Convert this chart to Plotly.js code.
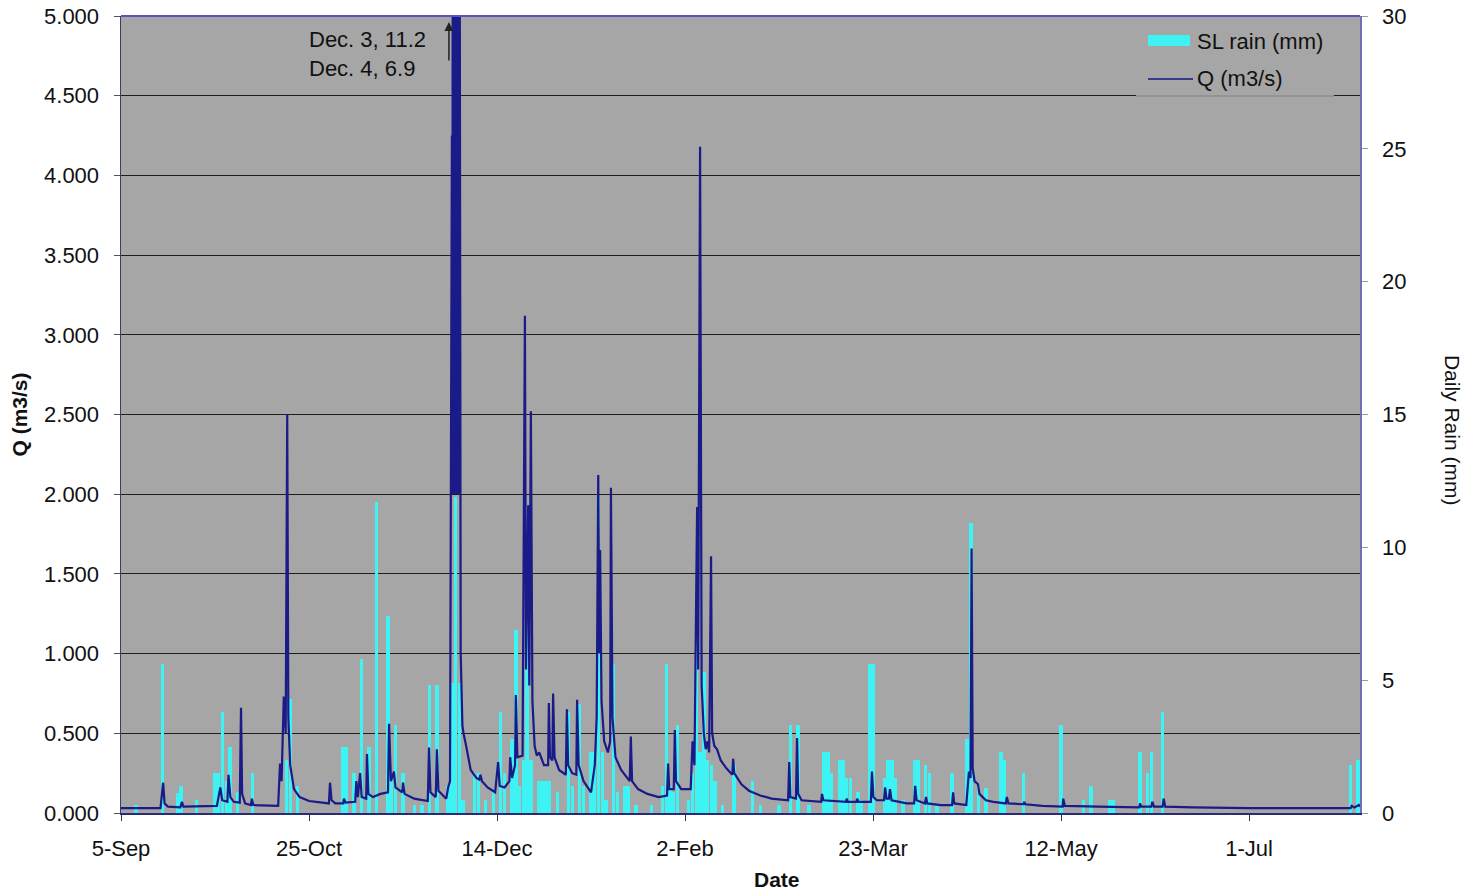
<!DOCTYPE html>
<html>
<head>
<meta charset="utf-8">
<script src="https://cdn.plot.ly/plotly-3.0.1.min.js"></script>
<style>html,body{margin:0;padding:0;background:#fff;}#chart{width:1469px;height:895px;}</style>
</head>
<body>
<div id="chart"></div>
<script>
// ---- Daily rain (SL rain, mm) ----
var rainDates = ['2007-09-09','2007-09-16','2007-09-20','2007-09-21','2007-09-25','2007-09-30','2007-10-01','2007-10-02','2007-10-03','2007-10-04','2007-10-06','2007-10-10','2007-10-19','2007-10-20','2007-10-22',
'2007-11-03','2007-11-04','2007-11-06','2007-11-08','2007-11-10','2007-11-12','2007-11-15','2007-11-16','2007-11-17','2007-11-19','2007-11-22','2007-11-24','2007-11-26','2007-11-28',
'2007-12-01','2007-12-02','2007-12-03','2007-12-04','2007-12-05','2007-12-08','2007-12-09','2007-12-11','2007-12-13','2007-12-15','2007-12-16','2007-12-18','2007-12-19','2007-12-20','2007-12-21','2007-12-22','2007-12-23','2007-12-25','2007-12-26','2007-12-27','2007-12-28','2007-12-30',
'2008-01-02','2008-01-03','2008-01-05','2008-01-06','2008-01-08','2008-01-09','2008-01-10','2008-01-11','2008-01-12','2008-01-14','2008-01-15','2008-01-17','2008-01-18','2008-01-20','2008-01-24','2008-01-27','2008-01-28','2008-01-29','2008-01-30','2008-01-31',
'2008-02-03','2008-02-04','2008-02-05','2008-02-06','2008-02-07','2008-02-08','2008-02-09','2008-02-10','2008-02-12','2008-02-15','2008-02-20','2008-02-22','2008-02-27',
'2008-03-01','2008-03-03','2008-03-06','2008-03-10','2008-03-11','2008-03-12','2008-03-14','2008-03-15','2008-03-16','2008-03-17','2008-03-19','2008-03-20','2008-03-22','2008-03-23','2008-03-26','2008-03-27','2008-03-28','2008-03-29','2008-03-31',
'2008-04-03','2008-04-04','2008-04-06','2008-04-07','2008-04-09','2008-04-13','2008-04-17','2008-04-18','2008-04-20','2008-04-22','2008-04-26','2008-04-27',
'2008-05-02','2008-05-12','2008-05-18','2008-05-20','2008-05-25','2008-05-26','2008-06-02','2008-06-04','2008-06-05','2008-06-08','2008-07-28','2008-07-30'];
var rainMm = [0.3,5.6,0.75,1.0,0.5,1.5,1.5,3.8,1.2,2.5,0.8,1.5,2.0,4.3,1.0,
2.5,2.5,1.5,5.8,2.5,11.7,7.4,1.5,3.3,1.5,0.3,0.3,4.8,4.8,
1.0,4.9,11.9,4.9,0.5,1.5,1.5,0.5,0.8,3.8,1.5,2.8,6.9,1.0,2.0,10.8,2.0,1.2,1.2,1.2,1.2,0.8,
3.8,1.0,4.1,1.0,2.3,2.3,11.9,2.3,0.5,5.6,0.8,1.0,1.0,0.3,0.3,1.0,5.6,1.0,0.8,3.3,
0.5,1.5,7.45,2.3,5.3,2.0,1.8,1.2,0.3,1.8,1.2,0.3,0.3,
3.3,3.3,0.3,2.3,2.3,1.5,2.0,2.0,1.3,1.3,0.8,0.5,5.6,5.6,1.3,2.0,2.0,1.3,0.5,
2.0,2.0,1.8,1.5,0.3,1.5,2.8,10.9,1.0,0.95,2.3,2.0,
1.5,3.3,0.5,1.0,0.5,0.5,2.3,1.5,2.3,3.8,1.8,2.0];

// ---- Discharge Q (m3/s) ----
var qTimes = ['2007-09-05 00:00','2007-09-15 12:00','2007-09-16 05:00','2007-09-16 14:00','2007-09-17 12:00','2007-09-20 19:00','2007-09-21 05:00','2007-09-21 14:00',
'2007-09-30 12:00','2007-10-01 10:00','2007-10-01 22:00','2007-10-03 07:00','2007-10-03 14:00','2007-10-04 02:00','2007-10-05 00:00','2007-10-06 14:00','2007-10-06 22:00','2007-10-07 05:00','2007-10-08 00:00',
'2007-10-09 14:00','2007-10-09 19:00','2007-10-10 05:00','2007-10-16 19:00','2007-10-17 07:00','2007-10-17 17:00','2007-10-18 07:00','2007-10-18 19:00','2007-10-19 05:00','2007-10-19 12:00','2007-10-20 00:00','2007-10-21 00:00','2007-10-22 12:00','2007-10-25 00:00',
'2007-10-30 07:00','2007-10-30 14:00','2007-10-31 00:00','2007-11-01 00:00','2007-11-03 02:00','2007-11-03 07:00','2007-11-03 17:00','2007-11-06 07:00','2007-11-06 14:00','2007-11-07 00:00','2007-11-07 14:00','2007-11-08 00:00',
'2007-11-09 05:00','2007-11-09 10:00','2007-11-09 19:00','2007-11-11 00:00','2007-11-13 00:00','2007-11-15 00:00','2007-11-15 07:00','2007-11-15 19:00','2007-11-16 14:00','2007-11-17 00:00','2007-11-18 19:00','2007-11-19 00:00','2007-11-19 10:00','2007-11-22 00:00',
'2007-11-25 14:00','2007-11-25 22:00','2007-11-26 07:00','2007-11-27 17:00','2007-11-28 00:00','2007-11-28 10:00','2007-11-30 12:00','2007-12-01 00:00','2007-12-01 12:00',
'2007-12-02 00:00','2007-12-02 03:00','2007-12-02 06:00','2007-12-02 09:00','2007-12-02 12:00','2007-12-02 15:00','2007-12-02 18:00','2007-12-02 21:00',
'2007-12-03 00:00','2007-12-03 03:00','2007-12-03 06:00','2007-12-03 09:00','2007-12-03 12:00','2007-12-03 15:00','2007-12-03 18:00','2007-12-03 21:00',
'2007-12-04 00:00','2007-12-04 03:00','2007-12-04 08:00','2007-12-04 19:00','2007-12-05 02:00','2007-12-05 19:00',
'2007-12-07 00:00','2007-12-08 12:00','2007-12-09 07:00','2007-12-09 14:00','2007-12-10 00:00','2007-12-11 12:00','2007-12-13 12:00',
'2007-12-14 07:00','2007-12-14 17:00','2007-12-16 00:00','2007-12-17 07:00','2007-12-17 12:00','2007-12-18 00:00','2007-12-18 19:00','2007-12-19 00:00','2007-12-19 10:00','2007-12-20 19:00','2007-12-21 10:00','2007-12-21 17:00','2007-12-22 07:00','2007-12-22 14:00','2007-12-23 00:00','2007-12-23 10:00','2007-12-24 00:00','2007-12-24 14:00','2007-12-25 05:00',
'2007-12-26 12:00','2007-12-27 14:00','2007-12-27 19:00','2007-12-28 02:00','2007-12-28 17:00','2007-12-28 22:00','2007-12-29 07:00','2007-12-30 12:00','2008-01-01 07:00','2008-01-01 14:00','2008-01-01 22:00','2008-01-03 00:00','2008-01-04 02:00','2008-01-04 07:00','2008-01-04 17:00','2008-01-06 00:00',
'2008-01-08 00:00','2008-01-09 00:00','2008-01-09 12:00','2008-01-09 22:00','2008-01-10 05:00','2008-01-10 10:00','2008-01-10 19:00','2008-01-11 12:00','2008-01-12 12:00','2008-01-13 02:00','2008-01-13 07:00','2008-01-13 17:00','2008-01-14 12:00','2008-01-16 00:00',
'2008-01-18 07:00','2008-01-18 14:00','2008-01-18 22:00','2008-01-20 12:00','2008-01-23 00:00','2008-01-26 00:00','2008-01-28 05:00','2008-01-28 12:00','2008-01-28 19:00','2008-01-30 00:00','2008-01-30 07:00','2008-01-30 14:00','2008-02-01 00:00',
'2008-02-03 12:00','2008-02-04 00:00','2008-02-04 12:00','2008-02-05 05:00','2008-02-05 12:00','2008-02-06 00:00','2008-02-06 10:00','2008-02-07 00:00','2008-02-07 12:00','2008-02-08 00:00','2008-02-08 10:00','2008-02-08 22:00','2008-02-09 05:00','2008-02-09 19:00','2008-02-10 12:00','2008-02-11 12:00',
'2008-02-13 00:00','2008-02-14 14:00','2008-02-14 19:00','2008-02-15 02:00','2008-02-17 00:00','2008-02-19 00:00','2008-02-22 00:00','2008-02-25 00:00','2008-02-29 10:00','2008-02-29 17:00','2008-03-01 00:00','2008-03-02 12:00','2008-03-02 19:00','2008-03-03 02:00','2008-03-04 00:00',
'2008-03-09 05:00','2008-03-09 10:00','2008-03-09 19:00','2008-03-15 19:00','2008-03-16 00:00','2008-03-16 07:00','2008-03-18 14:00','2008-03-18 19:00','2008-03-19 02:00','2008-03-22 10:00','2008-03-22 17:00','2008-03-23 02:00','2008-03-24 00:00',
'2008-03-25 22:00','2008-03-26 05:00','2008-03-26 14:00','2008-03-27 05:00','2008-03-27 12:00','2008-03-27 22:00','2008-03-30 00:00','2008-04-01 00:00','2008-04-02 22:00','2008-04-03 05:00','2008-04-03 14:00','2008-04-05 19:00','2008-04-06 02:00','2008-04-06 10:00','2008-04-10 00:00',
'2008-04-13 00:00','2008-04-13 07:00','2008-04-13 14:00','2008-04-16 19:00','2008-04-17 12:00','2008-04-17 22:00','2008-04-18 05:00','2008-04-18 12:00','2008-04-19 00:00','2008-04-19 22:00','2008-04-20 07:00','2008-04-22 00:00','2008-04-24 00:00',
'2008-04-27 07:00','2008-04-27 14:00','2008-04-28 00:00','2008-05-02 00:00','2008-05-02 05:00','2008-05-02 12:00','2008-05-07 00:00','2008-05-12 10:00','2008-05-12 14:00','2008-05-13 00:00','2008-05-22 00:00',
'2008-06-01 19:00','2008-06-02 00:00','2008-06-02 07:00','2008-06-05 00:00','2008-06-05 07:00','2008-06-05 17:00','2008-06-08 00:00','2008-06-08 07:00','2008-06-08 17:00','2008-06-16 00:00','2008-07-01 00:00',
'2008-07-28 00:00','2008-07-28 07:00','2008-07-29 00:00','2008-07-30 05:00','2008-07-30 12:00'];
var qValues = [0.03,0.03,0.19,0.06,0.04,0.035,0.07,0.04,
0.045,0.16,0.08,0.07,0.24,0.1,0.07,0.065,0.66,0.12,0.06,
0.05,0.09,0.05,0.045,0.31,0.2,0.73,0.5,2.5,0.6,0.3,0.15,0.1,0.075,
0.06,0.19,0.08,0.06,0.06,0.09,0.065,0.07,0.2,0.1,0.25,0.1,
0.09,0.37,0.12,0.1,0.12,0.13,0.56,0.2,0.26,0.16,0.13,0.19,0.12,0.09,
0.075,0.41,0.13,0.1,0.4,0.14,0.09,0.16,0.2,
4.25,2.0,7.0,2.0,9.0,2.1,9.5,2.0,
11.2,2.0,10.0,2.1,8.0,2.0,7.5,2.0,
6.9,2.0,1.0,0.55,0.5,0.42,
0.27,0.22,0.21,0.24,0.2,0.16,0.13,
0.32,0.17,0.16,0.2,0.35,0.22,0.3,0.74,0.35,0.36,3.12,0.9,1.93,0.8,2.52,0.7,0.42,0.36,0.38,
0.3,0.3,0.69,0.35,0.33,0.75,0.35,0.27,0.24,0.65,0.3,0.25,0.24,0.71,0.3,0.2,
0.13,0.3,0.6,2.12,1.0,1.65,0.7,0.45,0.38,0.45,2.04,0.6,0.35,0.27,
0.2,0.48,0.2,0.15,0.12,0.1,0.11,0.31,0.15,0.15,0.52,0.2,0.15,
0.15,0.45,0.3,1.92,0.9,4.18,0.8,0.5,0.4,0.45,0.38,1.61,0.5,0.42,0.4,0.33,
0.28,0.24,0.34,0.25,0.18,0.14,0.11,0.09,0.08,0.32,0.1,0.09,0.47,0.12,0.08,
0.07,0.12,0.08,0.07,0.09,0.07,0.07,0.09,0.07,0.07,0.26,0.1,0.08,
0.08,0.16,0.09,0.09,0.15,0.08,0.07,0.06,0.06,0.17,0.08,0.06,0.1,0.06,0.05,
0.05,0.13,0.06,0.05,0.26,0.22,1.66,0.28,0.2,0.18,0.12,0.08,0.07,
0.06,0.1,0.06,0.055,0.07,0.055,0.045,0.04,0.09,0.045,0.04,
0.035,0.06,0.04,0.04,0.07,0.04,0.04,0.09,0.04,0.035,0.03,
0.03,0.045,0.035,0.05,0.04];

// ---- Axis ticks & texts ----
var tickDates = ['2007-09-05','2007-10-25','2007-12-14','2008-02-02','2008-03-23','2008-05-12','2008-07-01'];
var tickLabels = ['5-Sep','25-Oct','14-Dec','2-Feb','23-Mar','12-May','1-Jul'];
var seriesNames = ['SL rain (mm)','Q (m3/s)'];
var noteText = 'Dec. 3, 11.2<br>Dec. 4, 6.9';

var FONT = 'Liberation Sans, Arial, Helvetica, sans-serif';
var cyan = '#3ef3f3';
var navy = '#1a1a88';
var plotBg = '#a6a6a6';

var traces = [
  {type:'bar', name:seriesNames[0], x:rainDates, y:rainMm, yaxis:'y', xaxis:'x',
   width:0.9*86400000, marker:{color:cyan, line:{width:0}}, showlegend:false, hoverinfo:'x+y'},
  {type:'scatter', mode:'lines', name:seriesNames[1], x:qTimes, y:qValues, yaxis:'y2', xaxis:'x',
   line:{color:navy, width:2.2}, showlegend:false}
];

var layout = {
  width:1469, height:895, autosize:false,
  margin:{l:121, r:109, t:16, b:82, pad:0},
  paper_bgcolor:'#ffffff', plot_bgcolor:plotBg,
  font:{family:FONT, size:22, color:'#111111'},
  bargap:0,
  xaxis:{type:'date', range:['2007-09-05 00:00','2008-07-30 12:00'],
    tickmode:'array', tickvals:tickDates, ticktext:tickLabels,
    ticks:'outside', ticklen:6, tickcolor:'#333', tickwidth:1,
    showgrid:false, zeroline:false, showline:true, linecolor:'#2a2a78', linewidth:1.5,
    tickfont:{family:FONT, size:22, color:'#111'}, ticklabelstandoff:9},
  yaxis:{range:[0,30], dtick:5, tick0:0, side:'right',
    showgrid:false, zeroline:false, showline:true, linecolor:'#6f6fb5', linewidth:1.5,
    ticks:'outside', ticklen:6, tickcolor:'#999', ticklabelstandoff:10,
    tickfont:{family:FONT, size:22, color:'#111'}},
  yaxis2:{range:[0,5], dtick:0.5, tick0:0, tickformat:'.3f', side:'left', overlaying:'y',
    showgrid:true, gridcolor:'#1e1e1e', gridwidth:1, zeroline:false,
    showline:true, linecolor:'#3a3a70', linewidth:1.5,
    ticks:'outside', ticklen:6, tickcolor:'#555', ticklabelstandoff:10,
    tickfont:{family:FONT, size:22, color:'#111'},
    title:{text:'<b>Q (m3/s)</b>', font:{family:FONT, size:21, color:'#111'}, standoff:10}},
  shapes:[
    {type:'line', xref:'paper', yref:'paper', x0:0, x1:1, y0:1, y1:1, line:{color:'#5a50cc', width:2}},
    {type:'rect', xref:'paper', yref:'paper', x0:0.8192, x1:0.9790, y0:0.8985, y1:0.9975,
     fillcolor:plotBg, line:{width:0}, layer:'above'},
    {type:'line', xref:'paper', yref:'paper', x0:0.8192, x1:0.9790, y0:0.8995, y1:0.8995,
     line:{color:'#8e8e8e', width:1.5}},
    {type:'rect', xref:'paper', yref:'paper', x0:0.8289, x1:0.8628, y0:0.9624, y1:0.9762,
     fillcolor:cyan, line:{width:0}},
    {type:'line', xref:'paper', yref:'paper', x0:0.8289, x1:0.8652, y0:0.9210, y1:0.9210,
     line:{color:'#3a3a8a', width:2}}
  ],
  annotations:[
    {xref:'paper', yref:'paper', x:0.8668, y:0.9674, xanchor:'left', yanchor:'middle', showarrow:false,
     text:seriesNames[0], font:{family:FONT, size:22, color:'#111'}},
    {xref:'paper', yref:'paper', x:0.8668, y:0.9210, xanchor:'left', yanchor:'middle', showarrow:false,
     text:seriesNames[1], font:{family:FONT, size:22, color:'#111'}},
    {xref:'x', yref:'paper', x:'2007-10-24 12:00', y:0.952, xanchor:'left', yanchor:'middle', align:'left',
     showarrow:false, text:noteText, font:{family:FONT, size:22, color:'#111'}},
    {xref:'x', yref:'paper', x:'2007-12-01 05:00', y:0.9925, ax:0, ay:40, axref:'pixel', ayref:'pixel',
     text:'', showarrow:true, arrowhead:2, arrowsize:1.2, arrowwidth:1.5, arrowcolor:'#222', standoff:0},
    {xref:'paper', yref:'paper', x:1.0743, y:0.4806, xanchor:'center', yanchor:'middle', showarrow:false,
     textangle:90, text:'Daily Rain (mm)', font:{family:FONT, size:21, color:'#111'}},
    {xref:'paper', yref:'paper', x:0.5295, y:-0.084, xanchor:'center', yanchor:'middle', showarrow:false,
     text:'<b>Date</b>', font:{family:FONT, size:21, color:'#111'}}
  ]
};

Plotly.newPlot('chart', traces, layout, {staticPlot:true, displayModeBar:false});
</script>
</body>
</html>
